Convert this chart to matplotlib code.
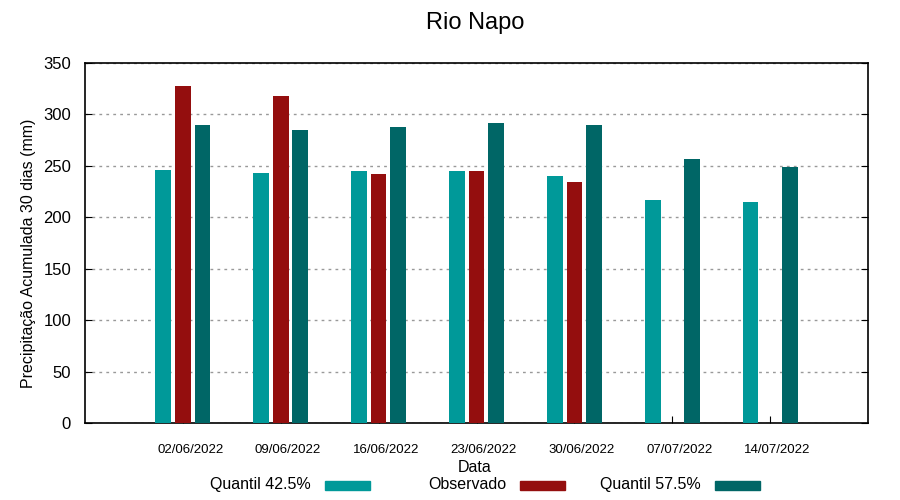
import matplotlib
matplotlib.use("Agg")
import matplotlib.pyplot as plt
from matplotlib.patches import Rectangle
from matplotlib.ticker import FixedLocator, FixedFormatter, NullFormatter
import numpy as np

plt.rcParams['font.family'] = ['Liberation Sans', 'DejaVu Sans']

dates = ["02/06/2022", "09/06/2022", "16/06/2022", "23/06/2022",
         "30/06/2022", "07/07/2022", "14/07/2022"]
q425 = [246, 243, 245, 245, 240, 217, 215]
observado = [328, 318, 242, 245, 234, np.nan, np.nan]
q575 = [290, 285, 288, 292, 290, 257, 249]
series_names = ["Quantil 42.5%", "Observado", "Quantil 57.5%"]
colors = ["#009999", "#940e0e", "#006666"]

fig = plt.figure(figsize=(9, 5), dpi=100)
ax = fig.add_axes([85/900, 77/500, 783/900, 360/500])

x = np.arange(1, len(dates) + 1)
w = 0.16
for vals, off, c in zip([q425, observado, q575], [-0.2, 0, 0.2], colors):
    ax.bar(x + off, vals, width=w, color=c, zorder=3)

ax.set_xlim(0, 8)
ax.set_ylim(0, 350)
ax.set_yticks(np.arange(0, 351, 50))
# major ticks (marks) at group positions, labels on shifted minor ticks
ax.xaxis.set_major_locator(FixedLocator(x))
ax.xaxis.set_major_formatter(NullFormatter())
ax.xaxis.set_minor_locator(FixedLocator(x + 0.075))
ax.xaxis.set_minor_formatter(FixedFormatter(dates))
ax.tick_params(axis='x', which='major', direction='in', length=5, top=False)
ax.tick_params(axis='x', which='minor', length=0, pad=15, labelsize=9.5, top=False)
ax.tick_params(axis='y', direction='in', length=5, pad=10, right=True, labelsize=12)
ax.yaxis.grid(True, linestyle=(0, (2, 3)), color='#999999', linewidth=1, zorder=0)
for s in ax.spines.values():
    s.set_linewidth(1.2)

ax.set_ylabel("Precipitação Acumulada 30 dias (mm)", fontsize=11.5)
ax.yaxis.set_label_coords(-49/783, 0.471)
fig.text(475/900, 1 - 468/500, "Data", ha='center', va='center', fontsize=11.5)
fig.text(475/900, 1 - 23/500, "Rio Napo", ha='center', va='center', fontsize=17)

# legend
text_ends = [311, 506, 701]
sw_starts = [325, 520, 715]
for name, c, te, ss in zip(series_names, colors, text_ends, sw_starts):
    fig.text(te/900, 1 - 489/500, name, ha='right', va='baseline', fontsize=11.5)
    fig.patches.append(Rectangle((ss/900, 1 - 490/500), 45/900, 9/500,
                                 transform=fig.transFigure, color=c, figure=fig))

fig.savefig("out.png", dpi=100)
